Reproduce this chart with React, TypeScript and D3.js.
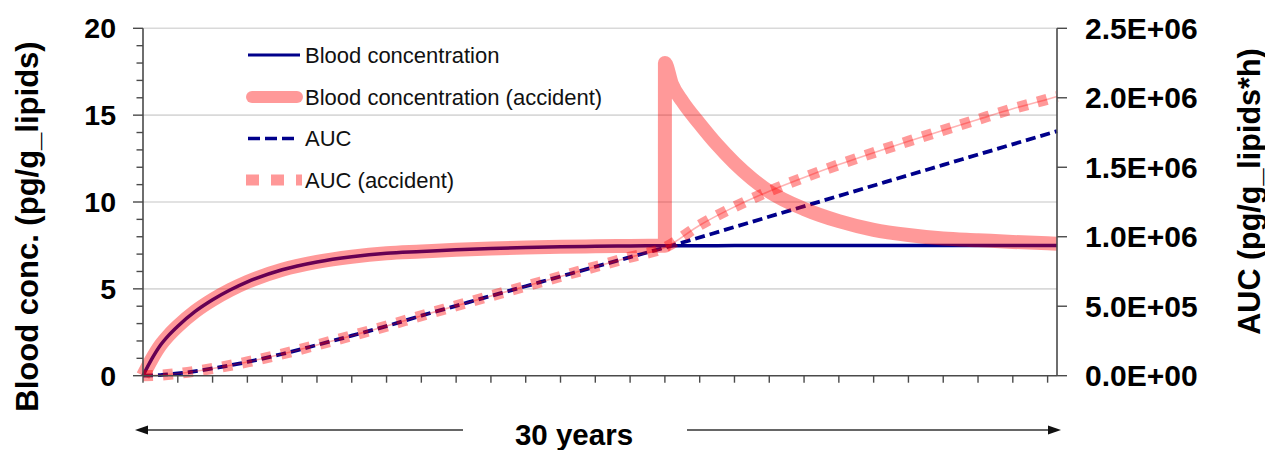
import React from "react";
import * as d3 from "d3";

// ---- Data (x in tick units; 26.27 ticks = 30 years) ----
const X_MAX = 26.27;
const xTickValues = d3.range(0, 27);
const leftMajorTicks = [0, 5, 10, 15, 20];
const leftMinorTicks = d3.range(0, 21);
const rightTicks = [0, 0.5e6, 1.0e6, 1.5e6, 2.0e6, 2.5e6];
const rightTickLabels = ["0.0E+00", "5.0E+05", "1.0E+06", "1.5E+06", "2.0E+06", "2.5E+06"];

const baseTime = [0, 0.25, 0.5, 0.75, 1, 1.5, 2, 2.5, 3, 4, 5, 6, 7, 8, 9, 10, 11, 12, 13, 14, 15, 17, 20, 23, 26.27];
const baseConc = [0, 0.95, 1.75, 2.35, 2.85, 3.7, 4.37, 4.93, 5.4, 6.1, 6.55, 6.85, 7.05, 7.15, 7.25, 7.32, 7.38, 7.42, 7.45, 7.47, 7.48, 7.49, 7.5, 7.5, 7.5];

const accidentTime = [15.001, 15.2, 15.5, 16, 16.5, 17, 17.5, 18, 19, 20, 21, 22, 23, 24, 25, 26, 26.27];
const accidentConc = [18.0, 16.8, 15.8, 14.5, 13.3, 12.25, 11.35, 10.6, 9.6, 8.9, 8.4, 8.1, 7.9, 7.8, 7.7, 7.62, 7.6];

const aucTime = [0, 0.5, 1, 2, 3, 4, 5, 6, 7, 8, 9, 10, 11, 12, 13, 14, 15, 17, 20, 23, 26.27];
const aucValue = [0, 0.0045e6, 0.016e6, 0.052e6, 0.099e6, 0.156e6, 0.221e6, 0.288e6, 0.357e6, 0.432e6, 0.503e6, 0.574e6, 0.644e6, 0.714e6, 0.784e6, 0.853e6, 0.922e6, 1.07e6, 1.294e6, 1.517e6, 1.76e6];

const aucAccTime = [16, 17, 18, 19, 20, 21, 22, 23, 24, 25, 26, 26.27];
const aucAccValue = [1.083e6, 1.215e6, 1.328e6, 1.427e6, 1.519e6, 1.605e6, 1.687e6, 1.766e6, 1.844e6, 1.921e6, 1.99e6, 2.01e6];

const legendItems = ["Blood concentration", "Blood concentration (accident)", "AUC", "AUC (accident)"];

const NAVY = "#00008B";
const PINK_ALPHA = "rgba(255,0,0,0.4)";
const FONT = "'Liberation Sans', Arial, Helvetica, sans-serif";

export default function App() {
  const W = 1265, H = 450;
  const left = 143, right = 1057, top = 28.3, bottom = 375.7;

  const x = d3.scaleLinear().domain([0, X_MAX]).range([left, right]);
  const yL = d3.scaleLinear().domain([0, 20]).range([bottom, top]);
  const yR = d3.scaleLinear().domain([0, 2.5e6]).range([bottom, top]);

  type P = [number, number];
  const base: P[] = baseTime.map((t, i) => [t, baseConc[i]]);
  const basePre: P[] = base.filter((p) => p[0] <= 15);
  const accident: P[] = basePre.concat(accidentTime.map((t, i) => [t, accidentConc[i]] as P));
  const auc: P[] = aucTime.map((t, i) => [t, aucValue[i]]);
  const aucPre: P[] = auc.filter((p) => p[0] <= 15);
  const aucAcc: P[] = aucPre.concat(aucAccTime.map((t, i) => [t, aucAccValue[i]] as P));

  const lineL = d3.line<P>().x((d) => x(d[0])).y((d) => yL(d[1])).curve(d3.curveMonotoneX);
  const lineR = d3.line<P>().x((d) => x(d[0])).y((d) => yR(d[1])).curve(d3.curveMonotoneX);

  const axisColor = "#4a4a4a";
  const legendX0 = 248, legendX1 = 300, legendTextX = 305;
  const legendY = [55, 97, 138.5, 180];

  return (
    <svg width={W} height={H} style={{ position: "absolute", left: 0, top: 0, background: "#fff" }} fontFamily={FONT}>
      <rect x={0} y={0} width={W} height={H} fill="#fff" />
      {/* gridlines */}
      {leftMajorTicks.filter((v) => v > 0).map((v) => (
        <line key={"g" + v} x1={left} x2={right} y1={yL(v)} y2={yL(v)} stroke="#d9d9d9" strokeWidth={1.6} />
      ))}

      {/* series: blue first */}
      <path d={lineL(base) || ""} fill="none" stroke={NAVY} strokeWidth={3.5} />
      <path d={lineR(auc) || ""} fill="none" stroke={NAVY} strokeWidth={3.8} strokeDasharray="10,5" />

      {/* pink series on top, semi-transparent */}
      <path d={lineL(accident) || ""} fill="none" stroke={PINK_ALPHA} strokeWidth={14} strokeLinejoin="round" strokeLinecap="butt" />
      <g opacity={0.4}>
        <path d={lineR(aucAcc) || ""} fill="none" stroke="#ff0000" strokeWidth={11} strokeDasharray="10,10" />
      </g>
      <g opacity={0.3}>
        <path d={lineR(aucAcc) || ""} fill="none" stroke="#ff0000" strokeWidth={1.6} />
      </g>

      {/* axes */}
      <line x1={left} x2={left} y1={top} y2={bottom} stroke={axisColor} strokeWidth={1.6} />
      <line x1={right} x2={right} y1={top} y2={bottom} stroke={axisColor} strokeWidth={1.6} />
      <line x1={left} x2={right} y1={bottom} y2={bottom} stroke={axisColor} strokeWidth={1.6} />
      {leftMinorTicks.map((v) => (
        <line key={"lt" + v} x1={left - (v % 5 === 0 ? 10 : 6.5)} x2={left} y1={yL(v)} y2={yL(v)} stroke={axisColor} strokeWidth={1.4} />
      ))}
      {rightTicks.map((v) => (
        <line key={"rt" + v} x1={right} x2={right + 10} y1={yR(v)} y2={yR(v)} stroke={axisColor} strokeWidth={1.4} />
      ))}
      {xTickValues.map((v) => (
        <line key={"xt" + v} x1={x(v)} x2={x(v)} y1={bottom} y2={bottom + 7} stroke={axisColor} strokeWidth={1.4} />
      ))}

      {/* tick labels */}
      {leftMajorTicks.map((v) => (
        <text key={"ll" + v} x={116} y={yL(v)} textAnchor="end" dominantBaseline="central" fontSize={28.5} fontWeight="bold" fill="#000">
          {v}
        </text>
      ))}
      {rightTicks.map((v, i) => (
        <text key={"rl" + v} x={1085} y={yR(v)} textAnchor="start" dominantBaseline="central" fontSize={30} fontWeight="bold" fill="#000">
          {rightTickLabels[i]}
        </text>
      ))}

      {/* axis titles */}
      <text transform="translate(27.5,226.5) rotate(-90)" textAnchor="middle" dominantBaseline="central" fontSize={31} fontWeight="bold" fill="#000">
        Blood conc. (pg/g_lipids)
      </text>
      <text transform="translate(1249,191.5) rotate(-90)" textAnchor="middle" dominantBaseline="central" fontSize={30.5} fontWeight="bold" fill="#000">
        AUC (pg/g_lipids*h)
      </text>

      {/* bottom arrows */}
      <line x1={145} x2={463} y1={430} y2={430} stroke="#333" strokeWidth={1.6} />
      <path d="M135,430 L148,425.5 L148,434.5 Z" fill="#111" />
      <line x1={687} x2={1050} y1={430} y2={430} stroke="#333" strokeWidth={1.6} />
      <path d="M1061,430 L1048,425.5 L1048,434.5 Z" fill="#111" />
      <text x={574} y={434} textAnchor="middle" dominantBaseline="central" fontSize={29.5} fontWeight="bold" fill="#000">
        30 years
      </text>

      {/* legend */}
      <line x1={legendX0} x2={legendX1} y1={legendY[0]} y2={legendY[0]} stroke={NAVY} strokeWidth={3.2} />
      <line x1={252} x2={297} y1={legendY[1]} y2={legendY[1]} stroke={PINK_ALPHA} strokeWidth={12} strokeLinecap="round" />
      <line x1={legendX0} x2={296} y1={legendY[2]} y2={legendY[2]} stroke={NAVY} strokeWidth={3.5} strokeDasharray="12,5" />
      <g opacity={0.4}>
        <line x1={246} x2={302} y1={legendY[3]} y2={legendY[3]} stroke="#ff0000" strokeWidth={11} strokeDasharray="13,12" />
      </g>
      {legendItems.map((s, i) => (
        <text key={s} x={legendTextX} y={legendY[i]} dominantBaseline="central" fontSize={22} fill="#111">
          {s}
        </text>
      ))}
    </svg>
  );
}
